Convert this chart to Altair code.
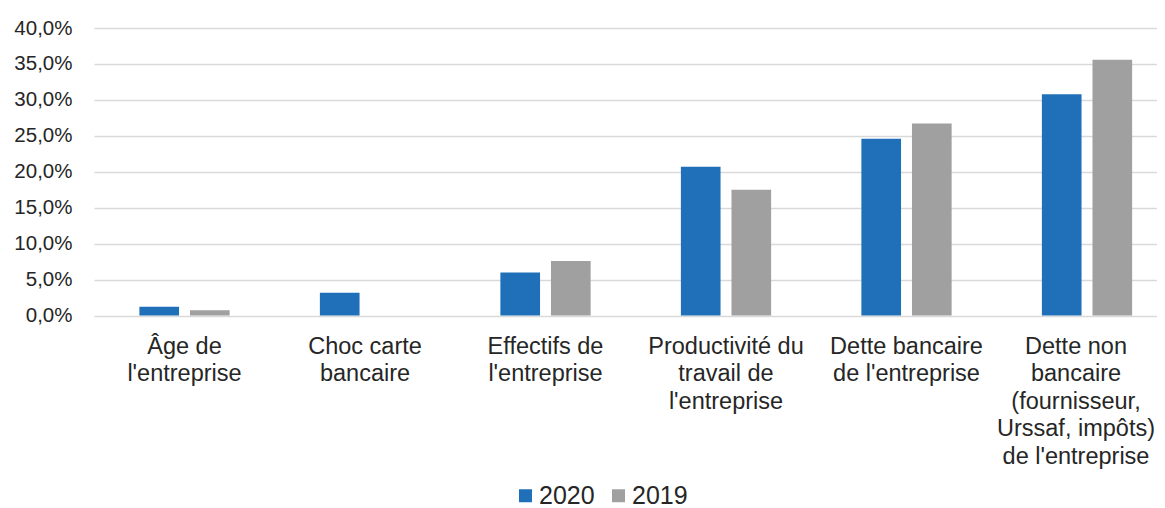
import altair as alt
import pandas as pd

categories = [
    "Âge de\nl'entreprise",
    "Choc carte\nbancaire",
    "Effectifs de\nl'entreprise",
    "Productivité du\ntravail de\nl'entreprise",
    "Dette bancaire\nde l'entreprise",
    "Dette non\nbancaire\n(fournisseur,\nUrssaf, impôts)\nde l'entreprise",
]
series = ["2020", "2019"]
values_2020 = [0.0122, 0.0317, 0.0600, 0.2070, 0.2460, 0.3080]
values_2019 = [0.0072, 0.0, 0.0758, 0.1750, 0.2670, 0.3560]
y_ticks = [0, 0.05, 0.10, 0.15, 0.20, 0.25, 0.30, 0.35, 0.40]

rows = []
for c, a, b in zip(categories, values_2020, values_2019):
    rows.append({"cat": c, "serie": "2020", "val": a})
    rows.append({"cat": c, "serie": "2019", "val": b})
df = pd.DataFrame(rows)

colors = ["#1F70B8", "#A0A0A0"]

chart = alt.Chart(df).mark_bar().encode(
    x=alt.X("cat:N", sort=categories, title=None,
            scale=alt.Scale(paddingInner=0.5, paddingOuter=0.1946, align=0.646),
            axis=alt.Axis(labelAngle=0, labelExpr="split(datum.value, '\\n')",
                          labelFont="Liberation Sans", labelFontSize=23.5,
                          labelColor="#262626", labelLineHeight=27.4,
                          labelPadding=19, ticks=False, domain=False,
                          labelBaseline="top", labelLimit=400,
                          labelOverlap=False,
                          labelOffset={"condition": {"test": "datum.index == 1", "value": -11},
                                       "value": 0})),
    xOffset=alt.XOffset("serie:N", sort=series,
                        scale=alt.Scale(paddingInner=0.216, paddingOuter=0)),
    y=alt.Y("val:Q", title=None,
            scale=alt.Scale(domain=[0, 0.4], nice=False),
            axis=alt.Axis(values=y_ticks,
                          labelExpr="replace(format(datum.value, '.1%'), '.', ',')",
                          labelFont="Liberation Sans", labelFontSize=20.5,
                          labelColor="#262626", labelPadding=22,
                          ticks=False, tickSize=0, domain=False,
                          grid=True, gridColor="#d9d9d9", gridWidth=1.5)),
    color=alt.Color("serie:N", sort=series, title=None,
                    scale=alt.Scale(domain=series, range=colors),
                    legend=alt.Legend(orient="none", direction="horizontal",
                                      legendX=419, legendY=455,
                                      symbolType="square", symbolSize=169,
                                      symbolStrokeWidth=0,
                                      labelFont="Liberation Sans", labelFontSize=25,
                                      labelColor="#262626", labelOffset=1,
                                      columnPadding=11)),
).properties(
    width=1063, height=287.5,
    autosize=alt.AutoSizeParams(type="none"),
    padding={"left": 86, "top": 20, "right": 0, "bottom": 192},
).configure_view(stroke=None)

chart.save("out.html", embed_options={"renderer": "svg", "actions": False})
